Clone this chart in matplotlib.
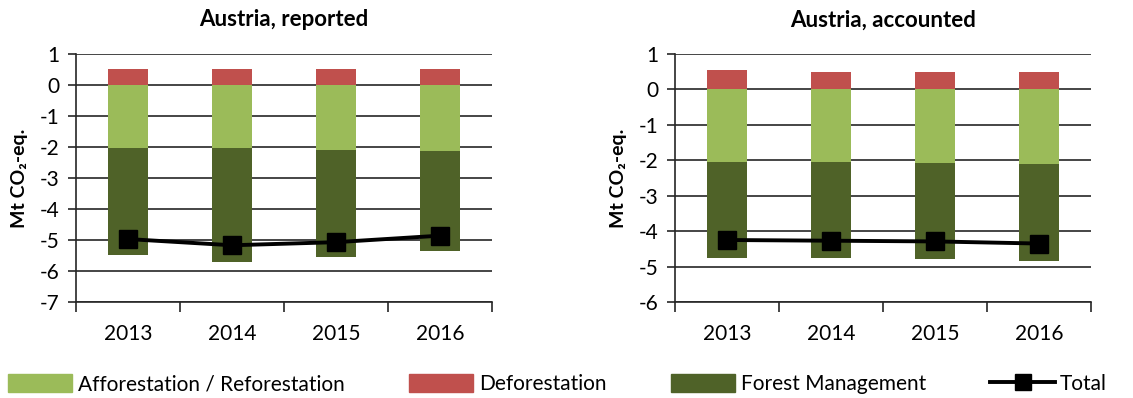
import numpy as np
import matplotlib.pyplot as plt
from matplotlib.patches import Patch
from matplotlib.lines import Line2D

plt.rcParams['font.family'] = ['Lato', 'DejaVu Sans']

years = ['2013', '2014', '2015', '2016']

# reported
rep_defor = [0.52, 0.52, 0.52, 0.52]
rep_affor = [-2.02, -2.04, -2.09, -2.13]
rep_fm = [-3.45, -3.67, -3.47, -3.23]
rep_total = [-4.97, -5.17, -5.07, -4.86]

# accounted
acc_defor = [0.54, 0.50, 0.50, 0.50]
acc_affor = [-2.04, -2.04, -2.07, -2.10]
acc_fm = [-2.73, -2.73, -2.73, -2.74]
acc_total = [-4.25, -4.27, -4.29, -4.35]

c_affor = '#9BBB59'
c_defor = '#C0504D'
c_fm = '#4F6228'
c_ax = '#262626'


def panel(ax, title, defor, affor, fm, total, ymin):
    x = np.arange(len(years))
    w = 0.39
    ax.bar(x, defor, w, color=c_defor, zorder=2)
    ax.bar(x, affor, w, color=c_affor, zorder=2)
    ax.bar(x, fm, w, bottom=affor, color=c_fm, zorder=2)
    ax.plot(x, total, '-s', color='black', lw=2.8, ms=13, zorder=3)
    ax.set_xlim(-0.5, len(years) - 0.5)
    ax.set_ylim(ymin, 1)
    ax.set_yticks(np.arange(ymin, 2, 1))
    ax.set_yticklabels([str(v) for v in range(ymin, 2)])
    ax.yaxis.grid(True, color=c_ax, lw=1.2, zorder=1)
    ax.set_axisbelow(True)
    ax.set_xticks(x)
    ax.set_xticklabels(years)
    ax.set_xticks(np.arange(-0.5, len(years)), minor=True)
    ax.tick_params(axis='x', which='major', length=0, pad=16, labelsize=15)
    ax.tick_params(axis='x', which='minor', length=7, width=1.2, color=c_ax)
    ax.tick_params(axis='y', length=6, width=1.2, color=c_ax, labelsize=15, pad=6)
    for s in ['top', 'right']:
        ax.spines[s].set_visible(False)
    for s in ['left', 'bottom']:
        ax.spines[s].set_color(c_ax)
        ax.spines[s].set_linewidth(1.2)
    ax.set_ylabel('Mt CO₂-eq.', fontsize=14, fontweight='bold', labelpad=8)
    ax.set_title(title, fontsize=16, fontweight='bold', pad=20)


fig = plt.figure(figsize=(11.33, 3.98), dpi=100)
ax1 = fig.add_axes([76 / 1133, 1 - 302 / 398, 416 / 1133, 248 / 398])
ax2 = fig.add_axes([675 / 1133, 1 - 302 / 398, 416 / 1133, 248 / 398])

panel(ax1, 'Austria, reported', rep_defor, rep_affor, rep_fm, rep_total, -7)
panel(ax2, 'Austria, accounted', acc_defor, acc_affor, acc_fm, acc_total, -6)

handles = [Patch(color=c_affor, label='Afforestation / Reforestation'),
           Patch(color=c_defor, label='Deforestation'),
           Patch(color=c_fm, label='Forest Management'),
           Line2D([], [], color='black', lw=2.8, marker='s', ms=11, label='Total')]
fig.legend(handles=handles, loc='center', bbox_to_anchor=(0.492, 0.035), ncol=4,
           frameon=False, fontsize=15, handlelength=3.1, handleheight=0.9,
           handletextpad=0.25, columnspacing=3.1)

fig.savefig('out.png', dpi=100)
